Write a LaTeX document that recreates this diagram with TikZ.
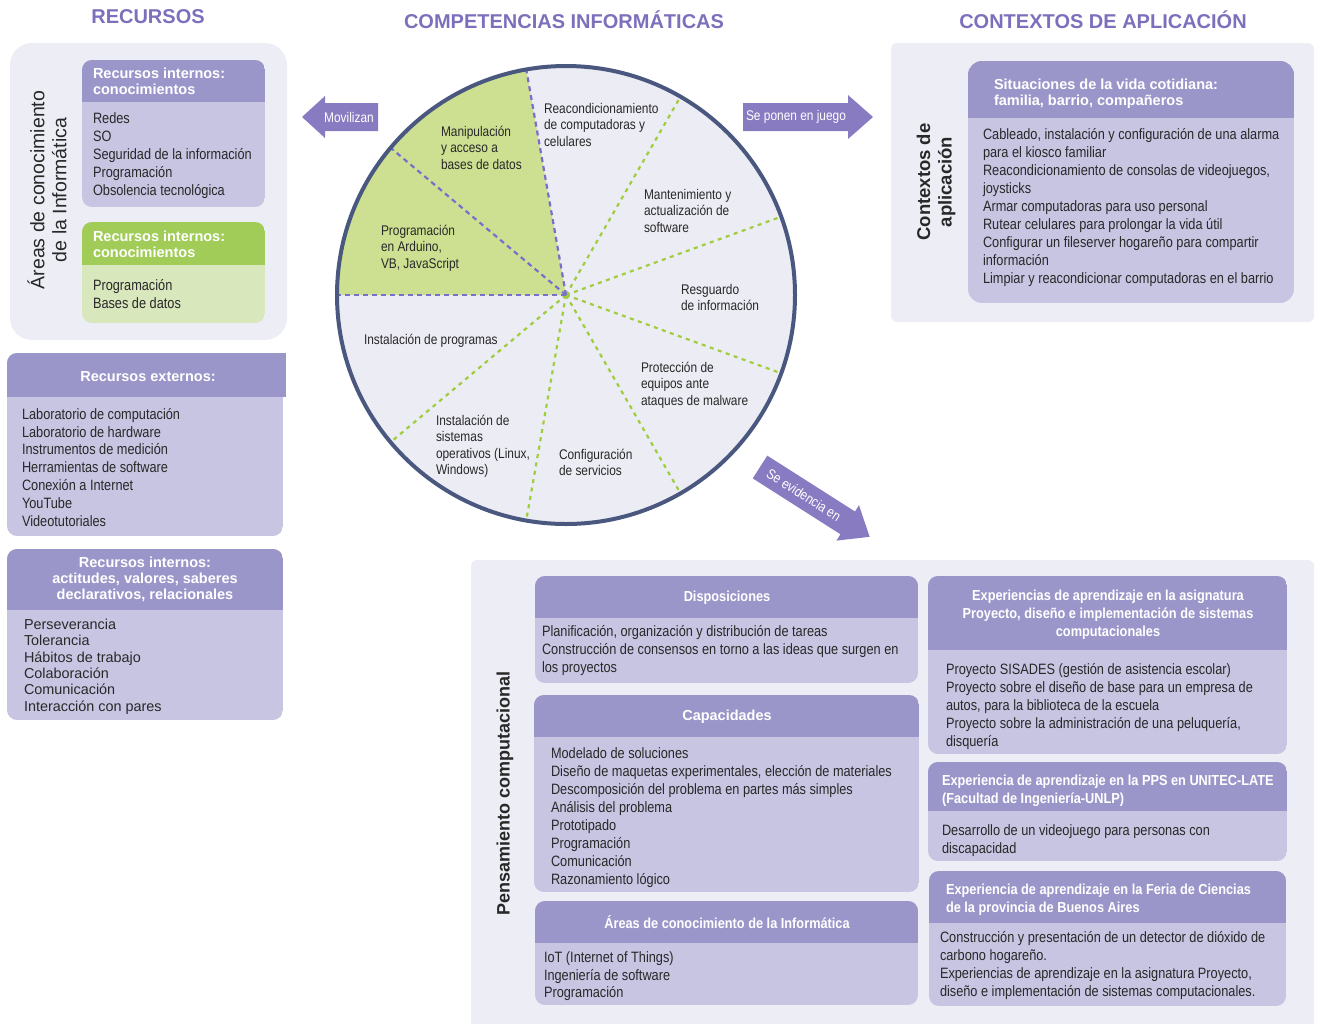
\documentclass[tikz,border=0pt]{standalone}
\usepackage{fontspec}
\setmainfont{Liberation Sans}
\newfontfamily\nf[FakeStretch=0.85]{Liberation Sans}
\newfontfamily\nbf[FakeStretch=0.88]{Liberation Sans}
\definecolor{ttlc}{RGB}{124,112,188}
\definecolor{headc}{RGB}{155,150,201}
\definecolor{bodyc}{RGB}{200,197,227}
\definecolor{panelc}{RGB}{237,237,246}
\definecolor{ghead}{RGB}{161,204,88}
\definecolor{gbody}{RGB}{217,231,189}
\definecolor{gsect}{RGB}{205,224,146}
\definecolor{circf}{RGB}{236,236,245}
\definecolor{circb}{RGB}{74,88,128}
\definecolor{arrc}{RGB}{137,123,193}
\definecolor{dgreen}{RGB}{160,205,60}
\definecolor{dpurp}{RGB}{122,110,205}
\definecolor{txtc}{RGB}{40,40,40}
\newcommand\sst{\vrule height 14pt depth 0pt width 0pt}
\newcommand\cardbox[7]{%
  \begin{scope}
    \clip[rounded corners=10pt] (#1,#2) rectangle (#3,#4);
    \fill[#7] (#1,#2) rectangle (#3,#4);
    \fill[#6] (#1,#2) rectangle (#3,#5);
  \end{scope}}
\tikzset{
  every node/.style={inner sep=0pt, outer sep=0pt},
  ttl/.style={font=\bfseries\fontsize{20}{22}\selectfont, text=ttlc},
  bodyN/.style={anchor=north west, align=left, yshift=8.7pt, text=txtc, font=\nf\fontsize{15}{18}\selectfont},
  bodyR/.style={anchor=north west, align=left, yshift=8.7pt, text=txtc, font=\fontsize{14.4}{16.4}\selectfont},
  circtxt/.style={anchor=north west, align=left, yshift=9pt, text=txtc, font=\nf\fontsize{14}{16.5}\selectfont},
  headL/.style={anchor=north west, align=left, yshift=8.8pt, text=white, font=\bfseries\fontsize{14.5}{16}\selectfont},
  headC/.style={anchor=north, align=center, yshift=8.8pt, text=white, font=\bfseries\fontsize{14.5}{16}\selectfont},
  nheadL/.style={anchor=north west, align=left, yshift=8.8pt, text=white, font=\nbf\bfseries\fontsize{14.5}{18}\selectfont},
  nheadC/.style={anchor=north, align=center, yshift=8.8pt, text=white, font=\nbf\bfseries\fontsize{14.5}{18}\selectfont},
  sidelbl/.style={rotate=90, align=center, text=txtc},
  arrtxt/.style={text=white, font=\nf\fontsize{14}{16}\selectfont},
  gdash/.style={draw=dgreen, line width=2.2pt, dash pattern=on 4pt off 4.5pt},
  pdash/.style={draw=dpurp, line width=2.2pt, dash pattern=on 5pt off 4pt},
}
\begin{document}
\begin{tikzpicture}[x=1pt,y=-1pt]
\useasboundingbox (0,0) rectangle (1321,1023);

% ---------- titles
\node[ttl] (t1) at (148,17) {RECURSOS};
\node[ttl] (t2) at (564,20) {COMPETENCIAS INFORMÁTICAS};
\node[ttl] (t3) at (1103,20) {CONTEXTOS DE APLICACIÓN};

% ---------- left panel
\fill[panelc, rounded corners=22pt] (10,43) rectangle (287,340);
\node[sidelbl, font=\fontsize{19.5}{22}\selectfont] (areas) at (47,190) {Áreas de conocimiento\\de la Informática};
\cardbox{82}{60}{265}{207}{102}{headc}{bodyc}
\node[headL] (rich) at (93,73) {\sst Recursos internos:\\conocimientos};
\node[bodyN] (ricb) at (93,118) {\sst Redes\\SO\\Seguridad de la información\\Programación\\Obsolencia tecnológica};
\cardbox{82}{222}{265}{323}{265}{ghead}{gbody}
\node[headL] (righ) at (93,236) {\sst Recursos internos:\\conocimientos};
\node[bodyN] (rigb) at (93,285) {\sst Programación\\Bases de datos};

\cardbox{7}{353}{283}{536}{397}{headc}{bodyc}
\fill[headc] (270,353) rectangle (286,397);
\node[headC] (reh) at (148,376) {\sst Recursos externos:};
\node[bodyN, font=\nf\fontsize{15}{17.8}\selectfont] (reb) at (22,414) {\sst Laboratorio de computación\\Laboratorio de hardware\\Instrumentos de medición\\Herramientas de software\\Conexión a Internet\\YouTube\\Videotutoriales};

\cardbox{7}{549}{283}{720}{610}{headc}{bodyc}
\node[headC] (rah) at (145,562) {\sst Recursos internos:\\actitudes, valores, saberes\\declarativos, relacionales};
\node[bodyR] (rab) at (24,624) {\sst Perseverancia\\Tolerancia\\Hábitos de trabajo\\Colaboración\\Comunicación\\Interacción con pares};

% ---------- circle
\coordinate (cc) at (566,295);
\fill[circf] (cc) circle[radius=229pt];
\fill[gsect] (cc) -- ++(100:229pt) arc[start angle=100, end angle=180, radius=229pt] -- cycle;
\foreach \a in {20,60,220,260,300,340} \draw[gdash] (cc) -- ++(\a:229pt);
\foreach \a in {100,140,180} \draw[pdash] (cc) -- ++(\a:229pt);
\draw[circb, line width=4pt] (cc) circle[radius=229pt];

\node[circtxt] (c1) at (441,131) {\sst Manipulación\\y acceso a\\bases de datos};
\node[circtxt] (c2) at (544,108) {\sst Reacondicionamiento\\de computadoras y\\celulares};
\node[circtxt] (c3) at (644,194) {\sst Mantenimiento y\\actualización de\\software};
\node[circtxt] (c4) at (381,230) {\sst Programación\\en Arduino,\\VB, JavaScript};
\node[circtxt] (c5) at (681,289) {\sst Resguardo\\de información};
\node[circtxt] (c6) at (364,339) {\sst Instalación de programas};
\node[circtxt] (c7) at (641,367) {\sst Protección de\\equipos ante\\ataques de malware};
\node[circtxt] (c8) at (436,420) {\sst Instalación de\\sistemas\\operativos (Linux,\\Windows)};
\node[circtxt] (c9) at (559,454) {\sst Configuración\\de servicios};

% ---------- arrows
\fill[arrc] (302,117) -- (325,96) -- (325,103) -- (378,103) -- (378,131) -- (325,131) -- (325,138) -- cycle;
\node[arrtxt] (a1) at (349,117) {Movilizan};
\fill[arrc] (873,117) -- (848,95) -- (848,103) -- (743,103) -- (743,131) -- (848,131) -- (848,139) -- cycle;
\node[arrtxt] (a2) at (796,117) {Se ponen en juego};
\begin{scope}[shift={(760,467)}, rotate=-32.5]
  \fill[arrc] (0,-13.5) -- (104,-13.5) -- (104,-21) -- (130,0) -- (104,21) -- (104,13.5) -- (0,13.5) -- cycle;
  \node[arrtxt, transform shape] (a3) at (52,0) {Se evidencia en};
\end{scope}

% ---------- contexts panel
\fill[panelc, rounded corners=6pt] (891,43) rectangle (1314,322);
\node[sidelbl, font=\bfseries\fontsize{18.5}{21.5}\selectfont] (ctx) at (936,182) {Contextos de\\aplicación};
\begin{scope}
  \clip[rounded corners=14pt] (968,61) rectangle (1294,303);
  \fill[bodyc] (968,61) rectangle (1294,303);
  \fill[headc] (968,61) rectangle (1294,118);
\end{scope}
\node[headL] (cth) at (994,84) {\sst Situaciones de la vida cotidiana:\\familia, barrio, compañeros};
\node[bodyN] (ctb) at (983,134) {\sst Cableado, instalación y configuración de una alarma\\para el kiosco familiar\\Reacondicionamiento de consolas de videojuegos,\\joysticks\\Armar computadoras para uso personal\\Rutear celulares para prolongar la vida útil\\Configurar un fileserver hogareño para compartir\\información\\Limpiar y reacondicionar computadoras en el barrio};

% ---------- bottom panel
\fill[panelc, rounded corners=6pt] (471,560) rectangle (1314,1040);
\node[sidelbl, font=\bfseries\fontsize{18}{21}\selectfont] (pc) at (505,793) {Pensamiento computacional};

\cardbox{535}{576}{918}{683}{618}{headc}{bodyc}
\node[nheadC] (dh) at (727,596) {\sst Disposiciones};
\node[bodyN] (db) at (542,631) {\sst Planificación, organización y distribución de tareas\\Construcción de consensos en torno a las ideas que surgen en\\los proyectos};

\cardbox{534}{695}{919}{892}{737}{headc}{bodyc}
\node[headC] (ch) at (727,715) {\sst Capacidades};
\node[bodyN] (cb) at (551,753) {\sst Modelado de soluciones\\Diseño de maquetas experimentales, elección de materiales\\Descomposición del problema en partes más simples\\Análisis del problema\\Prototipado\\Programación\\Comunicación\\Razonamiento lógico};

\cardbox{535}{901}{918}{1005}{943}{headc}{bodyc}
\node[nheadC] (ah) at (727,923) {\sst Áreas de conocimiento de la Informática};
\node[bodyN, font=\nf\fontsize{15}{17.7}\selectfont] (ab) at (544,957) {\sst IoT (Internet of Things)\\Ingeniería de software\\Programación};

\cardbox{928}{576}{1287}{754}{650}{headc}{bodyc}
\node[nheadC] (e1h) at (1108,595) {\sst Experiencias de aprendizaje en la asignatura\\Proyecto, diseño e implementación de sistemas\\computacionales};
\node[bodyN] (e1b) at (946,669) {\sst Proyecto SISADES (gestión de asistencia escolar)\\Proyecto sobre el diseño de base para un empresa de\\autos, para la biblioteca de la escuela\\Proyecto sobre la administración de una peluquería,\\disquería};

\cardbox{928}{762}{1287}{861}{811}{headc}{bodyc}
\node[nheadL] (e2h) at (942,780) {\sst Experiencia de aprendizaje en la PPS en UNITEC-LATE\\(Facultad de Ingeniería-UNLP)};
\node[bodyN] (e2b) at (942,830) {\sst Desarrollo de un videojuego para personas con\\discapacidad};

\cardbox{929}{871}{1286}{1006}{923}{headc}{bodyc}
\node[nheadL] (e3h) at (946,889) {\sst Experiencia de aprendizaje en la Feria de Ciencias\\de la provincia de Buenos Aires};
\node[bodyN] (e3b) at (940,937) {\sst Construcción y presentación de un detector de dióxido de\\carbono hogareño.\\Experiencias de aprendizaje en la asignatura Proyecto,\\diseño e implementación de sistemas computacionales.};
\end{tikzpicture}
\end{document}
